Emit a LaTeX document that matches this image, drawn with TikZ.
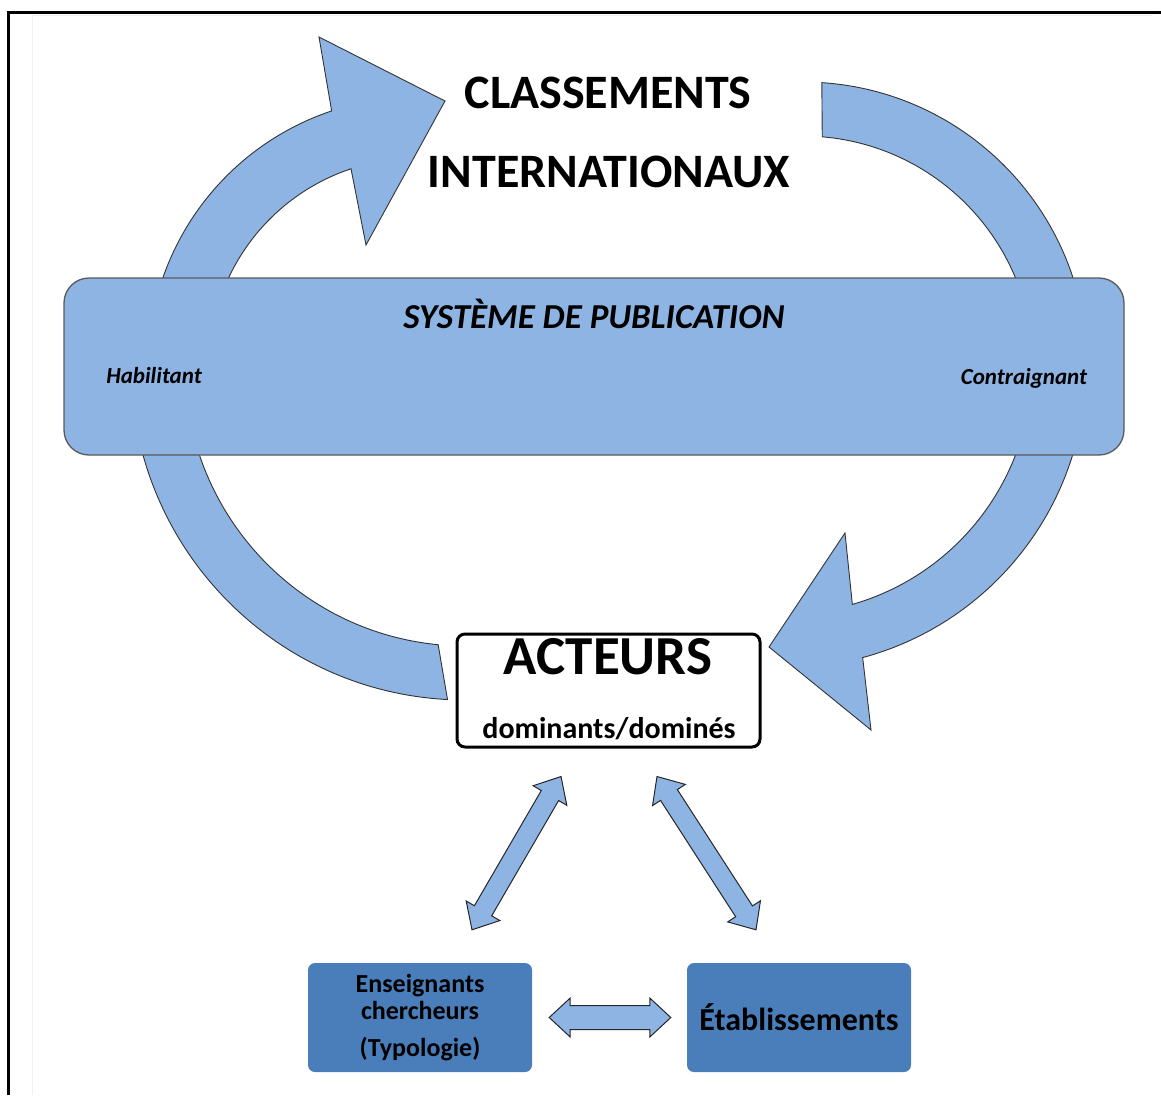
\documentclass[tikz,border=0pt]{standalone}
\usepackage{fontspec}
\setmainfont{Carlito}
\usetikzlibrary{calc}

\definecolor{arcblue}{RGB}{141,180,227}
\definecolor{boxblue}{RGB}{74,126,187}

\tikzset{
  curvearrow/.style={fill=arcblue, draw=black!80, line width=0.9pt, line join=miter},
  band/.style={fill=arcblue, draw=black!65, line width=1.3pt, rounded corners=25pt,
    minimum width=1060pt, minimum height=177pt, inner sep=0pt},
  actbox/.style={fill=white, draw=black, line width=3pt, rounded corners=8pt,
    minimum width=303pt, minimum height=113pt, inner sep=0pt},
  darkbox/.style={fill=boxblue, rounded corners=7pt, minimum width=224pt,
    minimum height=109pt, inner sep=0pt, align=center},
  blockarrow/.style={fill=arcblue, draw=black!85, line width=1pt, line join=miter},
  titletext/.style={font=\bfseries\fontsize{48}{56}\selectfont, anchor=base},
  sidetext/.style={font=\bfseries\itshape\fontsize{23}{27}\selectfont, anchor=base},
}

% double block arrow: ends #1 #2, half shaft #3, half head #4, head length #5
\newcommand{\dblarrow}[5]{%
  \draw[blockarrow] (#1)
    -- ($($(#1)!#5!(#2)$)!#4!90:(#2)$)
    -- ($($(#1)!#5!(#2)$)!#3!90:(#2)$)
    -- ($($(#2)!#5!(#1)$)!#3!-90:(#1)$)
    -- ($($(#2)!#5!(#1)$)!#4!-90:(#1)$)
    -- (#2)
    -- ($($(#2)!#5!(#1)$)!#4!90:(#1)$)
    -- ($($(#2)!#5!(#1)$)!#3!90:(#1)$)
    -- ($($(#1)!#5!(#2)$)!#3!-90:(#2)$)
    -- ($($(#1)!#5!(#2)$)!#4!-90:(#2)$)
    -- cycle;}

\begin{document}
\begin{tikzpicture}[x=1pt, y=-1pt]
\useasboundingbox (0,0) rectangle (1161,1095);
% frame
\draw[gray!12, line width=1pt] (32,1095) -- (32,15) -- (1152,15);
\draw[line width=3pt] (8,1095) -- (8,12) -- (1161,12);

% circular arrows
\draw[curvearrow] ($(417,366)+(180:269)$) arc[start angle=180, end angle=251.5, radius=269]
  -- (319,37) -- (445,101) -- (366,245)
  -- ($(417,366)+(251.5:208)$) arc[start angle=251.5, end angle=180, radius=208] -- cycle;
\draw[curvearrow] ($(803,366)+(273.8:284)$) arc[start angle=273.8, end angle=360, radius=284]
  -- ($(803,366)+(0:230)$) arc[start angle=360, end angle=274.8, radius=230] -- cycle;
\draw[curvearrow] ($(784,366)+(0:302)$) arc[start angle=0, end angle=74.9, radius=302]
  -- (871,730) -- (769,647) -- (845,533)
  -- ($(784,366)+(74:248)$) arc[start angle=74, end angle=0, radius=248] -- cycle;
\draw[curvearrow] ($(465,366)+(180:334)$) arc[start angle=180, end angle=93, radius=334]
  -- ($(465,366)+(95.5:280)$) arc[start angle=95.5, end angle=180, radius=280] -- cycle;

% band
\node[band] (systeme) at (594,366.5) {};
\node[font=\bfseries\itshape\fontsize{35}{40}\selectfont, anchor=base] (publication) at (594,328) {SYSTÈME DE PUBLICATION};
\node[sidetext] (habilitant) at (154,383) {Habilitant};
\node[sidetext] (contraignant) at (1024,384) {Contraignant};

% title
\node[titletext] (classements) at (608,108) {CLASSEMENTS};
\node[titletext] (internationaux) at (609,187) {INTERNATIONAUX};

% acteurs
\node[actbox] (acteurs) at (608.5,690.5) {};
\node[font=\bfseries\fontsize{55}{62}\selectfont, anchor=base] (acteurstitre) at (608,674) {ACTEURS};
\node[font=\bfseries\fontsize{30}{34}\selectfont, anchor=base] (statut) at (609,738) {dominants/dominés};

% bottom boxes
\node[darkbox, font=\bfseries\fontsize{26}{27}\selectfont] (enseignants) at (420,1017.5)
  {Enseignants\\chercheurs\\[10pt](Typologie)};
\node[darkbox, font=\bfseries\fontsize{32}{36}\selectfont] (etablissements) at (799,1017.5)
  {Établissements};

\coordinate (a1) at ($(acteurs.south)+(-47.5,28)$);
\coordinate (e1) at ($(enseignants.north)+(52,-33)$);
\coordinate (a2) at ($(acteurs.south)+(48.5,28)$);
\coordinate (t1) at ($(etablissements.north)+(-43,-33)$);
\coordinate (e2) at ($(enseignants.east)+(17,0)$);
\coordinate (t2) at ($(etablissements.west)+(-16,0)$);

\dblarrow{a1}{e1}{10pt}{19.5pt}{22pt}
\dblarrow{a2}{t1}{10pt}{19.5pt}{22pt}
\dblarrow{e2}{t2}{12pt}{19.5pt}{21pt}
\end{tikzpicture}
\end{document}
